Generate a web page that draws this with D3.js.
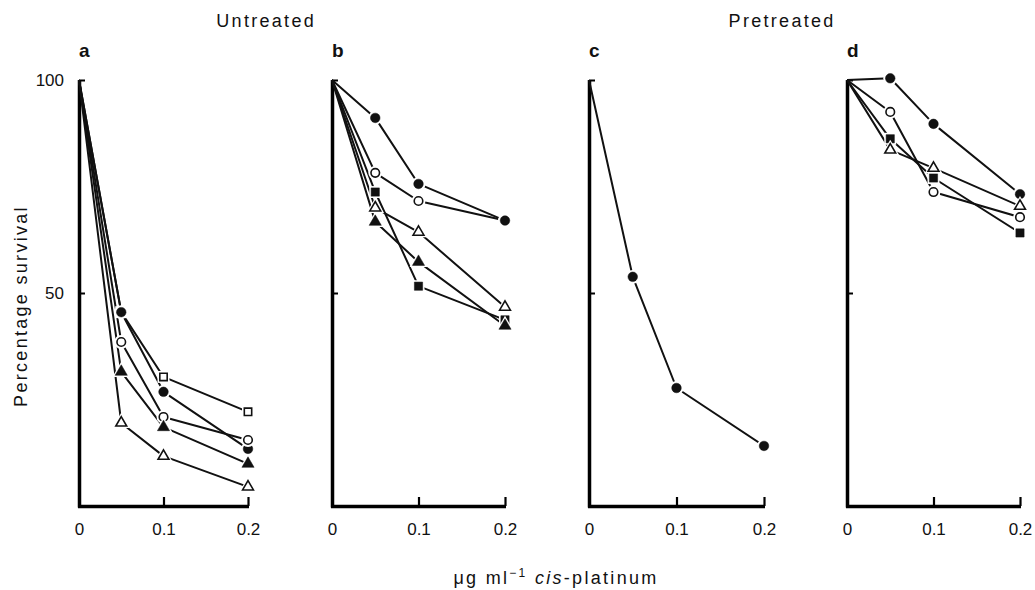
<!DOCTYPE html>
<html>
<head>
<meta charset="utf-8">
<script src="https://cdn.jsdelivr.net/npm/d3@7"></script>
<style>
  html, body { margin: 0; padding: 0; background: #fff; }
  svg { display: block; font-family: "Liberation Sans", Arial, sans-serif; }
</style>
</head>
<body>
<svg id="chart" width="1035" height="590"></svg>
<script>
// ---- data ----
const doses = [0, 0.05, 0.1, 0.2];
const panelLetters = ["a", "b", "c", "d"];
const groupTitles = ["Untreated", "Pretreated"];
const xTickValues = [0, 0.1, 0.2];
const xTickLabels = ["0", "0.1", "0.2"];
const yTickValues = [50, 100];
const yTickLabels = ["50", "100"];
const yTitle = "Percentage survival";

// panel a (untreated)
const aOpenSquare    = [100, 45.5, 30.3, 22.1];
const aFilledCircle  = [100, 45.5, 26.8, 13.4];
const aOpenCircle    = [100, 38.5, 20.9, 15.5];
const aFilledTri     = [100, 31.5, 18.5, 9.9];
const aOpenTri       = [100, 19.5, 11.7, 4.5];
// panel b (untreated)
const bFilledCircle  = [100, 91.1, 75.6, 67.0];
const bOpenCircle    = [100, 78.2, 71.6, 67.0];
const bFilledSquare  = [100, 73.7, 51.6, 43.7];
const bOpenTri       = [100, 70.0, 64.3, 46.7];
const bFilledTri     = [100, 66.7, 57.3, 42.3];
// panel c (pretreated)
const cFilledCircle  = [100, 53.8, 27.7, 14.1];
// panel d (pretreated)
const dFilledCircle  = [100, 100.4, 89.7, 73.2];
const dOpenCircle    = [100, 92.5, 73.7, 67.8];
const dFilledSquare  = [100, 86.2, 77.0, 64.1];
const dOpenTri       = [100, 83.6, 79.3, 70.4];

const panelSeries = [
  [ {v: aOpenSquare, s: "square", f: false},
    {v: aFilledCircle, s: "circle", f: true},
    {v: aOpenCircle, s: "circle", f: false},
    {v: aFilledTri, s: "triangle", f: true},
    {v: aOpenTri, s: "triangle", f: false} ],
  [ {v: bOpenCircle, s: "circle", f: false},
    {v: bFilledCircle, s: "circle", f: true},
    {v: bFilledSquare, s: "square", f: true},
    {v: bOpenTri, s: "triangle", f: false},
    {v: bFilledTri, s: "triangle", f: true} ],
  [ {v: cFilledCircle, s: "circle", f: true} ],
  [ {v: dOpenCircle, s: "circle", f: false},
    {v: dFilledCircle, s: "circle", f: true},
    {v: dFilledSquare, s: "square", f: true},
    {v: dOpenTri, s: "triangle", f: false} ]
];

// ---- layout ----
const panelLeft  = [79, 332, 589, 847];
const panelWidth = [169, 173, 175, 173];
const yTop = 80, yBottom = 506;
const FONT = 17;
const TFONT = 18, LS = 2.3;

const svg = d3.select("#chart");
const y = d3.scaleLinear().domain([0, 100]).range([yBottom, yTop]);

const symType = { circle: d3.symbolCircle, square: d3.symbolSquare, triangle: d3.symbolTriangle };
const symSize = { circle: 72, square: 68, triangle: 64 };

panelLetters.forEach((letter, i) => {
  const x = d3.scaleLinear().domain([0, 0.2]).range([panelLeft[i], panelLeft[i] + panelWidth[i]]);
  const g = svg.append("g");

  // y axis (ticks pointing right)
  const yAx = g.append("g").attr("transform", `translate(${panelLeft[i]},0)`)
    .call(d3.axisRight(y).tickValues(yTickValues).tickSizeInner(6).tickSizeOuter(0).tickFormat(""));
  yAx.select(".domain").attr("stroke-width", 3.5).attr("d", `M0.5,${yTop}V${yBottom + 1.5}`);
  yAx.selectAll(".tick line").attr("stroke-width", 2);

  if (i === 0) {
    const yl = g.append("g").attr("transform", `translate(${panelLeft[i] - 12},0)`)
      .call(d3.axisLeft(y).tickValues(yTickValues).tickSize(0)
        .tickFormat((d, k) => yTickLabels[k]));
    yl.select(".domain").remove();
    yl.selectAll("text").attr("font-size", FONT).attr("font-family", "Liberation Sans, Arial, sans-serif").attr("fill", "#111");
  }

  // x axis (ticks pointing up)
  const xAx = g.append("g").attr("transform", `translate(0,${yBottom})`)
    .call(d3.axisTop(x).tickValues([0.1, 0.2]).tickSizeInner(9).tickSizeOuter(0).tickFormat(""));
  xAx.select(".domain").attr("stroke-width", 3.5).attr("d", `M${panelLeft[i] - 1},0.5H${x(0.2) + 1}`);
  xAx.selectAll(".tick line").attr("stroke-width", 2.2);

  const xl = g.append("g").attr("transform", `translate(0,${yBottom + 14})`)
    .call(d3.axisBottom(x).tickValues(xTickValues).tickSize(0)
      .tickFormat((d, k) => xTickLabels[k]));
  xl.select(".domain").remove();
  xl.selectAll("text").attr("font-size", FONT).attr("font-family", "Liberation Sans, Arial, sans-serif").attr("fill", "#111");

  // panel letter
  g.append("text").attr("x", panelLeft[i]).attr("y", 57)
    .attr("font-size", 19).attr("font-weight", "bold").attr("fill", "#111")
    .text(letter);

  // series lines
  const line = d3.line().x((d, k) => x(doses[k])).y(d => y(d));
  panelSeries[i].forEach(s => {
    g.append("path").datum(s.v).attr("d", line)
      .attr("fill", "none").attr("stroke", "#111").attr("stroke-width", 2)
      .attr("stroke-linejoin", "round");
  });
  // markers (skip dose 0), with white halo
  panelSeries[i].forEach(s => {
    s.v.forEach((val, k) => {
      if (k === 0) return;
      const tr = `translate(${x(doses[k])},${y(val)})`;
      g.append("path").attr("transform", tr)
        .attr("d", d3.symbol().type(symType[s.s]).size(symSize[s.s] * 2.1)())
        .attr("fill", "#fff");
      g.append("path").attr("transform", tr)
        .attr("d", d3.symbol().type(symType[s.s]).size(s.f ? symSize[s.s] : symSize[s.s] * 0.8)())
        .attr("fill", s.f ? "#111" : "#fff")
        .attr("stroke", "#111").attr("stroke-width", s.f ? 0.5 : 1.6);
    });
  });
});

// group titles
svg.append("text").attr("x", 265 + LS / 2).attr("y", 27).attr("text-anchor", "middle")
  .attr("font-size", TFONT).attr("letter-spacing", LS).attr("fill", "#111").text(groupTitles[0]);
svg.append("text").attr("x", 781 + LS / 2).attr("y", 27).attr("text-anchor", "middle")
  .attr("font-size", TFONT).attr("letter-spacing", LS).attr("fill", "#111").text(groupTitles[1]);

// y title
svg.append("text").attr("transform", "translate(27,306) rotate(-90)")
  .attr("text-anchor", "middle").attr("font-size", TFONT).attr("letter-spacing", LS)
  .attr("fill", "#111").text(yTitle);

// x title
const xt = svg.append("text").attr("x", 556).attr("y", 584).attr("text-anchor", "middle")
  .attr("font-size", TFONT).attr("letter-spacing", LS).attr("fill", "#111");
xt.append("tspan").text("\u03bcg ml");
xt.append("tspan").attr("font-size", 12).attr("dy", -7).text("\u22121");
xt.append("tspan").attr("dy", 7).text(" ");
xt.append("tspan").attr("font-style", "italic").text("cis");
xt.append("tspan").text("-platinum");
</script>
</body>
</html>
